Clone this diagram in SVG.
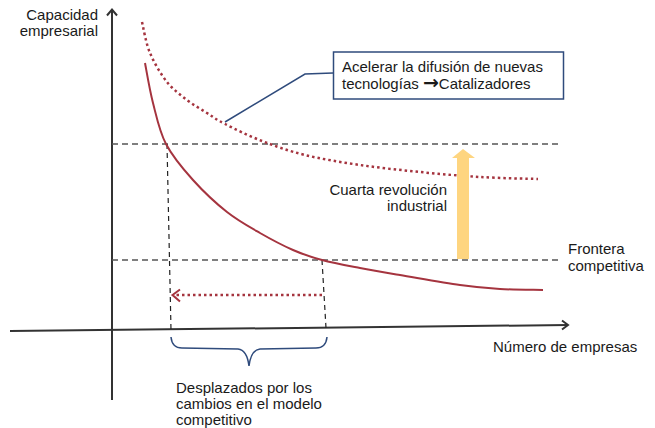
<svg xmlns="http://www.w3.org/2000/svg" width="655" height="428" viewBox="0 0 655 428">
<style>
text{font-family:"Liberation Sans",Arial,sans-serif;font-size:15px;fill:#1a1a1a}
.arr{font-family:"DejaVu Sans",sans-serif;font-weight:bold;font-size:19px}
.axis{stroke:#333;stroke-width:2;fill:none}
.guide{stroke:#555;stroke-width:1.3;stroke-dasharray:6 4;fill:none}
.vguide{stroke:#222;stroke-width:1.2;stroke-dasharray:5 4;fill:none}
.red{stroke:#a5343f;stroke-width:2;fill:none}
.reddot{stroke:#a5343f;stroke-width:2.5;stroke-dasharray:2.5 3;fill:none}
.navy{stroke:#2f4b7c;stroke-width:1.5;fill:none}
</style>
<rect width="655" height="428" fill="#fff"/>
<g id="axes">
<line class="axis" x1="112" y1="400" x2="112" y2="10"/>
<polyline class="axis" points="107,15.5 112,9.5 117,15.5"/>
<line class="axis" x1="10" y1="331" x2="568" y2="325"/>
<polyline class="axis" points="562,320.5 568,325 562,329.5"/>
</g>
<g id="guides">
<line class="guide" x1="112" y1="144" x2="562" y2="144"/>
<line class="guide" x1="112" y1="260" x2="562" y2="260"/>
<line class="vguide" x1="167" y1="144" x2="171" y2="330"/>
<line class="vguide" x1="322" y1="260" x2="326" y2="328"/>
</g>
<g id="curve-actual">
<path class="red" d="M145,63 C146.3,69.7 149.5,89.5 153,103 C156.5,116.5 159.3,131.2 166,144 C172.7,156.8 182.8,168.7 193,180 C203.2,191.3 215.8,203.2 227,212 C238.2,220.8 249,226.7 260,233 C271,239.3 282.7,245.5 293,250 C303.3,254.5 310.8,257 322,260 C333.2,263 347,265.5 360,268 C373,270.5 383.3,272.2 400,275 C416.7,277.8 443.3,282.7 460,285 C476.7,287.3 486.2,288.2 500,289 C513.8,289.8 535.8,289.8 543,290"/>
</g>
<g id="curve-new">
<path class="reddot" d="M142,22 C143.3,27.2 145.8,43 150,53 C154.2,63 160.8,74.2 167,82 C173.2,89.8 180.3,94.8 187,100 C193.7,105.2 200.7,109 207,113 C213.3,117 215.8,119.3 225,124 C234.2,128.7 248.7,135.8 262,141 C275.3,146.2 288.7,151 305,155 C321.3,159 340.8,162.2 360,165 C379.2,167.8 400,170 420,172 C440,174 460.3,175.8 480,177 C499.7,178.2 528.3,178.7 538,179"/>
</g>
<g id="displacement-arrow">
<line class="reddot" x1="322" y1="295" x2="176" y2="295"/>
<polyline class="red" points="180,289.5 172.5,295 180,301.5"/>
</g>
<g id="revolution-arrow">
<polygon points="457,259 469,259 469,158 475,158 463,149 452,158 457,158" fill="#fed580"/>
</g>
<g id="callout">
<polyline class="navy" points="333,73 305,74 225,122"/>
<rect x="333.5" y="52" width="230" height="47" fill="#fff" stroke="#2f4b7c" stroke-width="1.5"/>
<text x="342" y="72">Acelerar la difusión de nuevas</text>
<text x="342" y="89">tecnologías <tspan class="arr">→</tspan>Catalizadores</text>
</g>
<g id="brace">
<path class="navy" d="M171,337 Q172,348 182,348 L238,349 Q247,350 249,366 Q251,350 260,349 L316,348 Q326,348 327,337"/>
</g>
<g id="labels">
<text x="98" y="20" text-anchor="end">Capacidad</text>
<text x="98" y="36" text-anchor="end">empresarial</text>
<text x="447" y="195" text-anchor="end">Cuarta revolución</text>
<text x="447" y="211" text-anchor="end">industrial</text>
<text x="568" y="254">Frontera</text>
<text x="568" y="271">competitiva</text>
<text x="493" y="352">Número de empresas</text>
<text x="176" y="393">Desplazados por los</text>
<text x="176" y="409">cambios en el modelo</text>
<text x="176" y="425">competitivo</text>
</g>
</svg>
